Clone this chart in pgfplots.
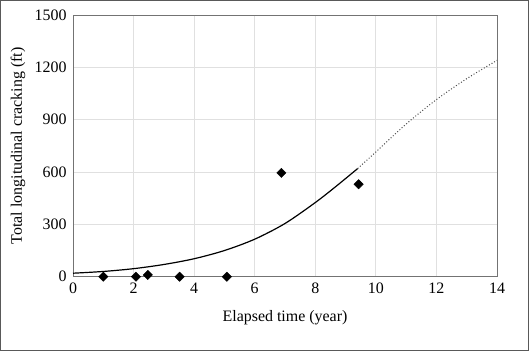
\documentclass[border=0pt]{standalone}
\usepackage{fontspec}
\setmainfont{Liberation Serif}
\usepackage{pgfplots}
\pgfplotsset{compat=1.18}
\begin{document}
\begin{tikzpicture}
\path[use as bounding box] (-73bp,-74.3bp) rectangle (456bp,276.7bp);
\draw[line width=1bp, color=black!65] (-72.5bp,-73.8bp) rectangle (455.5bp,276.2bp);
\begin{axis}[
  at={(0,0)}, anchor=origin,
  scale only axis, width=424bp, height=261.7bp,
  xmin=0, xmax=14, ymin=0, ymax=1500,
  xtick={0,2,...,14}, ytick={0,300,...,1500},
  grid=major, major grid style={color=black!12, line width=0.8bp},
  axis line style={color=black!55, line width=0.9bp},
  tick style={draw=none},
  font=\fontsize{16}{18}\selectfont,
  tick label style={font=\fontsize{16}{18}\selectfont},
  /pgf/number format/assume math mode=true,
  /pgf/number format/1000 sep={},
  xlabel={Elapsed time (year)},
  ylabel={Total longitudinal cracking (ft)},
  xlabel style={at={(axis description cs:0.5,-0.1567)}, anchor=center},
  ylabel style={at={(axis description cs:-0.1297,0.5)}, anchor=center},
  yticklabel style={xshift=-3bp},
  xticklabel style={yshift=-3bp},
  clip=false,
]
\addplot[black, line width=1.2bp, smooth] coordinates {
 (0,20) (1,30) (2,46) (3,70) (4,103) (5,150) (6,215) (7,305) (8,425) (8.7,520) (9.4,620)
};
\addplot[black!70, line width=1bp, dotted, smooth] coordinates {
 (9.4,620) (10,715) (11,875) (12,1015) (13,1135) (14,1240)
};
\addplot[only marks, mark=square*, mark options={rotate=45}, mark size=3.3bp, black] coordinates {
 (1,0) (2.08,0) (2.47,10) (3.52,0) (5.08,0) (6.88,595) (9.43,530)
};
\end{axis}
\end{tikzpicture}
\end{document}
